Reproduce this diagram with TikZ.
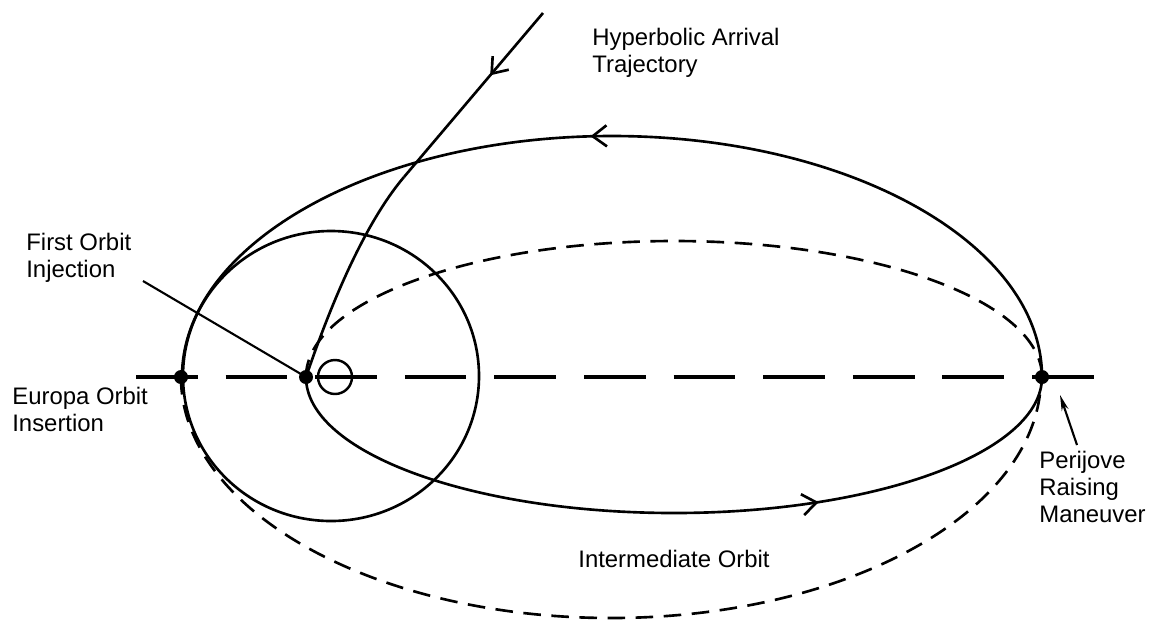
\documentclass[tikz,border=0pt]{standalone}
\usepackage{fontspec}
\setmainfont{Liberation Sans}
\usetikzlibrary{arrows.meta, decorations.markings}

\begin{document}
\begin{tikzpicture}[x=0.02cm, y=0.02cm, line join=round,
    orbit/.style={line width=1.5pt},
    dashorbit/.style={line width=1.5pt, dash pattern=on 10pt off 6pt},
    axisline/.style={line width=1.8pt, dash pattern=on 35.1pt off 15.9pt},
    leader/.style={line width=1.2pt},
    txt/.style={font=\fontsize{13.6}{15.3}\selectfont, align=left,
      anchor=base west, inner sep=0pt},
    midarrow/.style={postaction={decorate}, decoration={markings,
      mark=at position #1 with {\arrow{Straight Barb[length=8pt, width=12pt]}}}}]
  \useasboundingbox (0,0) rectangle (1163,-627);
  % points on the apse line
  \coordinate (eoi) at (181,-377);
  \coordinate (foi) at (306,-377);
  \coordinate (prm) at (1042,-377);
  \coordinate (jup) at (335,-377);
  \coordinate (axl) at (136,-377);
  \coordinate (axr) at (1098,-377);
  \draw[axisline] (axl) -- (axr);
  % orbit of Europa and Jupiter
  \draw[orbit] (331,-376) ellipse[x radius=148, y radius=145];
  \draw[line width=1.4pt] (jup) circle[radius=17];
  % final and intermediate orbit
  \draw[orbit, midarrow=0.52] (prm)
    arc[start angle=0, end angle=180, x radius=430, y radius=241];
  \draw[dashorbit] (eoi)
    arc[start angle=180, end angle=360, x radius=430, y radius=241];
  % first orbit
  \draw[orbit, midarrow=0.674] (foi)
    arc[start angle=180, end angle=360, x radius=368, y radius=136];
  \draw[dashorbit] (foi)
    arc[start angle=180, end angle=0, x radius=368, y radius=136];
  % hyperbolic arrival
  \coordinate (hyp0) at (543,-13);
  \coordinate (hyp1) at (404,-177);
  \draw[orbit, midarrow=0.38] (hyp0) -- (hyp1);
  \draw[orbit] (hyp1) .. controls (360,-229) and (325.5,-320) .. (foi);
  % labels (anchored on the last line)
  \node[txt] (hyptxt) at (592,-72) {Hyperbolic Arrival\\Trajectory};
  \node[txt] (foitxt) at (26,-277) {First Orbit\\Injection};
  \node[txt] (eoitxt) at (12,-431) {Europa Orbit\\Insertion};
  \node[txt] (prmtxt) at (1039,-522) {Perijove\\Raising\\Maneuver};
  \node[txt] (inttxt) at (578,-567) {Intermediate Orbit};
  \coordinate (foilead) at (143,-281);
  \coordinate (prmlead) at (1077,-445);
  \coordinate (prmtip) at (1060,-395);
  \draw[leader] (foilead) -- (foi);
  \draw[leader, -{Stealth[length=9pt, width=4pt]}] (prmlead) -- (prmtip);
  \foreach \p in {eoi, foi, prm} \fill (\p) circle[radius=7];
\end{tikzpicture}
\end{document}
